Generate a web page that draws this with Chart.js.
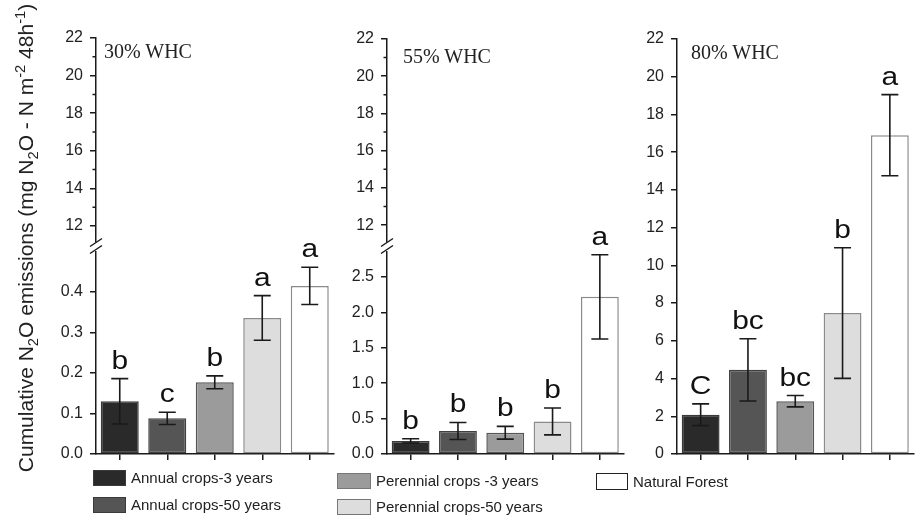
<!DOCTYPE html>
<html><head><meta charset="utf-8">
<script src="https://cdn.jsdelivr.net/npm/chart.js@4.4.0/dist/chart.umd.min.js"></script>
<style>
body{margin:0;background:#fff;}
#wrap{position:relative;width:917px;height:518px;overflow:hidden;background:#fff;font-family:"Liberation Sans",Arial,sans-serif;color:#222;}
#wrap canvas{position:absolute;}
.ptitle{position:absolute;font-family:"Liberation Serif","Times New Roman",serif;font-size:20px;line-height:22px;color:#222;white-space:nowrap;}
.ytitle{position:absolute;width:520px;height:26px;line-height:26px;font-size:21px;text-align:center;white-space:nowrap;transform:rotate(-90deg);color:#222;}
.ytitle sub,.ytitle sup{font-size:70%;line-height:0;}
.lbox{position:absolute;box-sizing:border-box;border:1.5px solid #333;}
.ltext{position:absolute;font-size:15px;line-height:18px;white-space:nowrap;color:#222;}
</style></head>
<body><div id="wrap"></div>
<script>
// ---- data ----
const categories = ['Annual crops-3 years','Annual crops-50 years','Perennial crops -3 years','Perennial crops-50 years','Natural Forest'];
const panelTitles = ['30% WHC','55% WHC','80% WHC'];

const whc30Means = [0.130, 0.088, 0.177, 0.336, 0.415];
const whc30SD    = [0.056, 0.015, 0.016, 0.055, 0.046];
const whc30Letters = ['b','c','b','a','a'];

const whc55Means = [0.185, 0.325, 0.300, 0.460, 2.22];
const whc55SD    = [0.030, 0.120, 0.090, 0.190, 0.595];
const whc55Letters = ['b','b','b','b','a'];

const whc80Means = [2.08, 4.46, 2.80, 7.47, 16.9];
const whc80SD    = [0.575, 1.65, 0.30, 3.46, 2.15];
const whc80Letters = ['C','bc','bc','b','a'];

const upperTicks = [12,14,16,18,20,22];
const upperMinorTicks = [13,15,17,19,21];
const whc30LowerTicks = [0,0.1,0.2,0.3,0.4];
const whc55LowerTicks = [0,0.5,1.0,1.5,2.0,2.5];
const whc80Ticks = [0,2,4,6,8,10,12,14,16,18,20,22];

// ---- styles ----
const barFills   = ['#2a2a2a','#555555','#9b9b9b','#dddddd','#ffffff'];
const barBorders = ['#3a3a3a','#404040','#555555','#8a8a8a','#8a8a8a'];

Chart.defaults.font.family = '"Liberation Sans", Arial, sans-serif';
Chart.defaults.color = '#222';

const wrap = document.getElementById('wrap');

const extraPlugin = {
  id: 'extra',
  afterDatasetsDraw(chart, args, opts) {
    const ctx = chart.ctx;
    const ys = chart.scales.y;
    const ax = chart.chartArea.left;
    ctx.save();
    ctx.strokeStyle = '#1a1a1a';
    ctx.lineWidth = 1.5;
    if (opts.minor) {
      ctx.beginPath();
      opts.minor.forEach(v => {
        const py = ys.getPixelForValue(v);
        ctx.moveTo(ax - 3.5, py); ctx.lineTo(ax, py);
      });
      ctx.stroke();
    }
    if (opts.breakMark) {
      const top = chart.chartArea.top;
      ctx.fillStyle = '#fff';
      ctx.fillRect(ax - 2, top - 9, 4, 8);
      ctx.beginPath();
      [top - 9, top - 2].forEach(c => {
        ctx.moveTo(ax - 6, c + 4); ctx.lineTo(ax + 6, c - 4);
      });
      ctx.stroke();
    }
    if (opts.sd) {
      const meta = chart.getDatasetMeta(0);
      const means = chart.data.datasets[0].data;
      ctx.lineWidth = 1.6;
      meta.data.forEach((bar, i) => {
        const x = bar.x;
        const hi = ys.getPixelForValue(means[i] + opts.sd[i]);
        const lo = ys.getPixelForValue(means[i] - opts.sd[i]);
        ctx.beginPath();
        ctx.moveTo(x, lo); ctx.lineTo(x, hi);
        ctx.moveTo(x - 8.5, hi); ctx.lineTo(x + 8.5, hi);
        ctx.moveTo(x - 8.5, lo); ctx.lineTo(x + 8.5, lo);
        ctx.stroke();
        ctx.save();
        ctx.fillStyle = '#111';
        ctx.font = '26px "Liberation Sans", Arial, sans-serif';
        ctx.textAlign = 'center';
        ctx.textBaseline = 'alphabetic';
        ctx.translate(x, hi - 10);
        ctx.scale(1.15, 1);
        ctx.fillText(opts.letters[i], 0, 0);
        ctx.restore();
      });
    }
    ctx.restore();
  }
};

function makeChart(cfg) {
  const L = 60, xH = cfg.showX ? 8 : 0;
  const plotW = cfg.x1 - cfg.x0, plotH = cfg.y1 - cfg.y0;
  const left = cfg.x0 - L;
  const top = Math.floor(cfg.y0 - cfg.padTop);
  const T = cfg.y0 - top;
  const W = Math.min(917 - left, Math.ceil(L + plotW + 6));
  const padR = W - L - plotW;
  const H = Math.ceil(T + plotH + xH + 22);
  const padB = H - T - plotH - xH;
  const cv = document.createElement('canvas');
  cv.width = W; cv.height = H;
  cv.style.left = left + 'px'; cv.style.top = top + 'px';
  cv.style.width = W + 'px'; cv.style.height = H + 'px';
  wrap.appendChild(cv);
  const datasets = cfg.means ? [{
    data: cfg.means,
    backgroundColor: barFills,
    borderColor: barBorders,
    borderWidth: 1.5,
    borderSkipped: false,
    barPercentage: 0.8,
    categoryPercentage: 1.0
  }] : [];
  return new Chart(cv, {
    type: 'bar',
    data: { labels: categories, datasets },
    plugins: [extraPlugin],
    options: {
      responsive: false, animation: false, events: [],
      devicePixelRatio: 1,
      layout: { padding: { left: 0, right: padR, top: T, bottom: padB } },
      plugins: {
        legend: { display: false }, tooltip: { enabled: false },
        extra: { sd: cfg.sd, letters: cfg.letters, minor: cfg.minor, breakMark: cfg.breakMark }
      },
      scales: {
        x: {
          type: 'category', display: !!cfg.showX, offset: true,
          grid: { display: true, offset: false, drawOnChartArea: false, drawTicks: true, tickLength: 6, color: '#1a1a1a', lineWidth: 1.5 },
          border: { display: true, color: '#1a1a1a', width: 1.5 },
          ticks: { display: false },
          afterFit: s => { s.height = xH; }
        },
        y: {
          type: 'linear', min: cfg.min, max: cfg.max,
          afterBuildTicks: s => { s.ticks = cfg.ticks.map(v => ({ value: v })); },
          afterFit: s => { s.width = L; },
          grid: { drawOnChartArea: false, drawTicks: true, tickLength: 6, color: '#1a1a1a', lineWidth: 1.5 },
          border: { display: true, color: '#1a1a1a', width: 1.5 },
          ticks: { padding: 7, color: '#222', font: { size: 16 }, callback: v => cfg.fmt(v) }
        }
      }
    }
  });
}

const f1 = v => Number(v).toFixed(1);
const f0 = v => String(v);

// 30% WHC
makeChart({ x0: 96, x1: 333.5, y0: 38, y1: 242, padTop: 24, min: 11.15, max: 22, ticks: upperTicks, minor: upperMinorTicks, fmt: f0 });
makeChart({ x0: 96, x1: 333.5, y0: 251.5, y1: 454, padTop: 40, min: 0, max: 0.5, ticks: whc30LowerTicks, fmt: f1,
  showX: true, means: whc30Means, sd: whc30SD, letters: whc30Letters, breakMark: true });
// 55% WHC
makeChart({ x0: 387, x1: 623.5, y0: 39, y1: 242, padTop: 24, min: 11.1, max: 22, ticks: upperTicks, minor: upperMinorTicks, fmt: f0 });
makeChart({ x0: 387, x1: 623.5, y0: 251.5, y1: 454, padTop: 40, min: 0, max: 2.86, ticks: whc55LowerTicks, fmt: f1,
  showX: true, means: whc55Means, sd: whc55SD, letters: whc55Letters, breakMark: true });
// 80% WHC
makeChart({ x0: 677, x1: 913.5, y0: 39, y1: 454, padTop: 24, min: 0, max: 22, ticks: whc80Ticks, fmt: f0,
  showX: true, means: whc80Means, sd: whc80SD, letters: whc80Letters });

// panel titles
[[104, 40], [403, 45], [691, 41]].forEach((p, i) => {
  const d = document.createElement('div');
  d.className = 'ptitle'; d.textContent = panelTitles[i];
  d.style.left = p[0] + 'px'; d.style.top = p[1] + 'px';
  wrap.appendChild(d);
});

// y title
const yt = document.createElement('div');
yt.className = 'ytitle';
yt.innerHTML = 'Cumulative N<sub>2</sub>O emissions (mg N<sub>2</sub>O - N m<sup>-2</sup> 48h<sup>-1</sup>)';
yt.style.left = (26 - 260) + 'px'; yt.style.top = (237.5 - 13) + 'px';
wrap.appendChild(yt);

// legend
const legendPos = [[93, 470, 33, 16], [93, 497, 33, 16], [337, 473, 34, 16], [337, 499, 34, 16], [596, 473, 32, 17]];
categories.forEach((c, i) => {
  const [x, y, w, h] = legendPos[i];
  const b = document.createElement('div');
  b.className = 'lbox';
  b.style.left = x + 'px'; b.style.top = y + 'px'; b.style.width = w + 'px'; b.style.height = h + 'px';
  b.style.background = barFills[i];
  b.style.borderColor = i < 2 ? '#3a3a3a' : (i === 4 ? '#222' : '#777');
  wrap.appendChild(b);
  const t = document.createElement('div');
  t.className = 'ltext'; t.textContent = c;
  t.style.left = (x + w + 5) + 'px'; t.style.top = (y + h / 2 - 9) + 'px';
  wrap.appendChild(t);
});
</script>
</body></html>
